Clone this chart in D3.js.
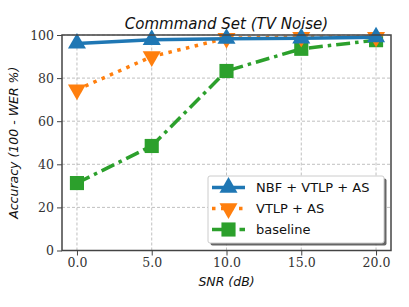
<!DOCTYPE html>
<html>
<head>
<meta charset="utf-8">
<script src="https://cdn.jsdelivr.net/npm/d3@7"></script>
<style>
  body { margin: 0; background: #fff; }
  svg { display: block; }
</style>
</head>
<body>
<svg id="chart" width="409" height="307"></svg>
<script>
const width = 409
const height = 307
const margin = { top: 35, right: 18, bottom: 56.5, left: 62 }

// data
const snr = [0, 5, 10, 15, 20]
const nbfVtlpAs = [96.1, 97.8, 98.3, 98.5, 99.0]
const vtlpAs = [74.6, 90.0, 98.5, 99.0, 99.0]
const baseline = [31.3, 48.5, 83.3, 93.6, 97.6]
const xTicks = [0, 5, 10, 15, 20]
const yTicks = [0, 20, 40, 60, 80, 100]
const seriesNames = ['NBF + VTLP + AS', 'VTLP + AS', 'baseline']

const series = [
  { name: seriesNames[0], values: nbfVtlpAs, color: '#1f77b4', dash: null, marker: 'up' },
  { name: seriesNames[1], values: vtlpAs, color: '#ff7f0e', dash: '3.5,5.5', marker: 'down' },
  { name: seriesNames[2], values: baseline, color: '#2ca02c', dash: '14,5,3.5,5', marker: 'square' }
]

const svg = d3.select('#chart')
const x = d3.scaleLinear().domain([-1, 21]).range([margin.left, width - margin.right])
const y = d3.scaleLinear().domain([0, 100]).range([height - margin.bottom, margin.top])

// grid
const grid = svg.append('g').attr('stroke', '#b0b0b0').attr('stroke-dasharray', '3,2').attr('stroke-width', 0.8)
grid.selectAll('.gx').data(xTicks).join('line')
  .attr('x1', d => x(d)).attr('x2', d => x(d))
  .attr('y1', y(0)).attr('y2', y(100))
grid.selectAll('.gy').data(yTicks).join('line')
  .attr('x1', x(-1)).attr('x2', x(21))
  .attr('y1', d => y(d)).attr('y2', d => y(d))

// lines
const line = d3.line().x((d, i) => x(snr[i])).y(d => y(d))

function marker(sel, type, size) {
  if (type === 'up') sel.attr('d', d3.symbol(d3.symbolTriangle, size * size * 0.55))
  else if (type === 'down') sel.attr('d', d3.symbol(d3.symbolTriangle, size * size * 0.55)).attr('transform', function () { return d3.select(this).attr('transform') + ' rotate(180)' })
  else sel.attr('d', d3.symbol(d3.symbolSquare, size * size * 0.78))
}

const plot = svg.append('g')
series.slice().reverse().forEach(s => {
  plot.append('path').datum(s.values)
    .attr('fill', 'none').attr('stroke', s.color).attr('stroke-width', 3.5)
    .attr('stroke-dasharray', s.dash)
    .attr('d', line)
  plot.selectAll(null).data(s.values).join('path')
    .attr('fill', s.color)
    .attr('transform', (d, i) => `translate(${x(snr[i])},${y(d)})`)
    .call(marker, s.marker, 16)
})

// spines
svg.append('rect')
  .attr('x', x(-1)).attr('y', y(100))
  .attr('width', x(21) - x(-1)).attr('height', y(0) - y(100))
  .attr('fill', 'none').attr('stroke', '#444').attr('stroke-width', 1.5)

// axes
const xAxis = svg.append('g').attr('transform', `translate(0,${y(0)})`)
  .call(d3.axisBottom(x).tickValues(xTicks).tickFormat(d3.format('.1f')).tickSize(5).tickPadding(3))
const yAxis = svg.append('g').attr('transform', `translate(${x(-1)},0)`)
  .call(d3.axisLeft(y).tickValues(yTicks).tickSize(5).tickPadding(3))
;[xAxis, yAxis].forEach(a => {
  a.select('.domain').remove()
  a.selectAll('.tick line').attr('stroke', '#444').attr('stroke-width', 1)
  a.selectAll('.tick text').attr('fill', '#333')
    .style('font-family', '"DejaVu Serif", serif').style('font-size', '12.5px')
})

// titles
svg.append('text').attr('x', (x(-1) + x(21)) / 2).attr('y', 29)
  .attr('text-anchor', 'middle')
  .style('font', 'italic 15px "DejaVu Sans", sans-serif').attr('fill', '#111')
  .text('Commmand Set (TV Noise)')
svg.append('text').attr('x', (x(-1) + x(21)) / 2).attr('y', 286)
  .attr('text-anchor', 'middle')
  .style('font', 'italic 12.5px "DejaVu Sans", sans-serif').attr('fill', '#111')
  .text('SNR (dB)')
svg.append('text')
  .attr('transform', `translate(18,${(y(0) + y(100)) / 2}) rotate(-90)`)
  .attr('text-anchor', 'middle')
  .style('font', 'italic 12.5px "DejaVu Sans", sans-serif').attr('fill', '#111')
  .text('Accuracy (100 - WER %)')

// legend
const lg = svg.append('g').attr('transform', 'translate(208,176)')
lg.append('rect').attr('x', 2.5).attr('y', 2.5).attr('width', 176).attr('height', 67)
  .attr('rx', 2).attr('fill', '#555').attr('opacity', 0.9)
lg.append('rect').attr('width', 176).attr('height', 67).attr('rx', 2)
  .attr('fill', '#fff').attr('stroke', '#ccc').attr('stroke-width', 1)
series.forEach((s, i) => {
  const cy = 11.5 + i * 21
  lg.append('line').attr('x1', 4).attr('x2', 37).attr('y1', cy).attr('y2', cy)
    .attr('stroke', s.color).attr('stroke-width', 3.5).attr('stroke-dasharray', s.dash)
  lg.append('path').attr('fill', s.color)
    .attr('transform', `translate(20.5,${cy})`)
    .call(marker, s.marker, 16)
  lg.append('text').attr('x', 48).attr('y', cy + 4.5)
    .style('font', '13px "DejaVu Sans", sans-serif').attr('fill', '#111')
    .text(s.name)
})
</script>
</body>
</html>
